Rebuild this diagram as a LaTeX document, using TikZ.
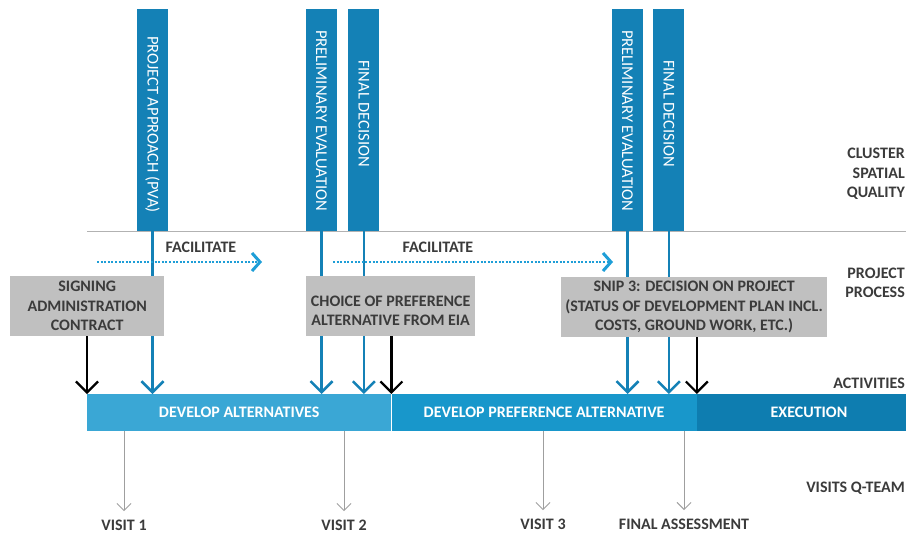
\documentclass[tikz,border=0pt]{standalone}
\usepackage{fontspec}
\setmainfont{Carlito}
\usepackage{tikz}
\usetikzlibrary{arrows.meta, positioning, calc}
\definecolor{gateblue}{HTML}{1481B6}
\definecolor{dotblue}{HTML}{1E9ED7}
\definecolor{phaseA}{HTML}{3AA7D5}
\definecolor{phaseB}{HTML}{1897CB}
\definecolor{phaseC}{HTML}{0E7DB0}
\definecolor{boxgray}{HTML}{C0C0C0}
\definecolor{inkgray}{HTML}{3B3B3B}

\begin{document}
\begin{tikzpicture}[
    x=1pt, y=-1pt,
    font=\fontsize{16}{19.5}\selectfont\bfseries,
    text=inkgray,
    gatebar/.style={rectangle, fill=gateblue, minimum width=31pt, minimum height=222pt, inner sep=0pt},
    gatelabel/.style={rotate=-90, anchor=west, inner sep=0pt, text=white, font=\fontsize{16.5}{19}\selectfont},
    processbox/.style={rectangle, fill=boxgray, anchor=north west, inner sep=0pt, minimum height=60pt, align=center},
    phase/.style={rectangle, inner sep=0pt, minimum height=37pt, text=white},
    lane/.style={anchor=east, inner sep=0pt, align=right},
    gatearrow/.style={draw=gateblue, line width=2.8pt, -{Straight Barb[length=11pt, width=22pt, line width=2.5pt]}},
    decisionarrow/.style={draw=black, line width=2.2pt, -{Straight Barb[length=11pt, width=22pt, line width=2.2pt]}},
    facilitate/.style={draw=dotblue, line width=2.2pt, dash pattern=on 2pt off 1.6pt, -{Straight Barb[length=8pt, width=18pt, line width=3pt]}},
    visitarrow/.style={draw=gray!75, line width=1pt, -{Straight Barb[length=7pt, width=14pt]}, shorten >=5pt},
]
\useasboundingbox (0,0) rectangle (913,535);

\node[gatebar, anchor=north] (pva) at (152.5,9) {};
\node[gatebar, anchor=north] (pe1) at (321.5,9) {};
\node[gatebar, right=11pt of pe1] (fd1) {};
\node[gatebar, anchor=north] (pe2) at (627.5,9) {};
\node[gatebar, right=10pt of pe2] (fd2) {};

\node[gatelabel] (pvatext) at ($(pva.north)+(0,27)$) {PROJECT APPROACH (PVA)};
\node[gatelabel] (pe1text) at ($(pe1.north)+(0,21)$) {PRELIMINARY EVALUATION};
\node[gatelabel] (fd1text) at ($(fd1.north)+(0,51)$) {FINAL DECISION};
\node[gatelabel] (pe2text) at ($(pe2.north)+(0,21)$) {PRELIMINARY EVALUATION};
\node[gatelabel] (fd2text) at ($(fd2.north)+(0,51)$) {FINAL DECISION};

\node[phase, anchor=north west, fill=phaseA, minimum width=304pt] (alt) at (87,394) {DEVELOP ALTERNATIVES};
\node[phase, fill=phaseB, minimum width=305pt, right=0pt of alt] (pref) {DEVELOP PREFERENCE ALTERNATIVE};
\node[phase, fill=phaseC, minimum width=209pt, right=0pt of pref] (exec) {\hspace*{15pt}EXECUTION};

\draw[gray!60, line width=0.8pt] (alt.west |- pva.south) -- (exec.east |- pva.south);

\foreach \g in {pva, pe1, fd1, pe2, fd2}
    \draw[gatearrow] (\g.south) -- (\g.south |- alt.north);

\node[processbox, minimum width=154pt] (signing) at (10,276) {SIGNING\\ADMINISTRATION\\CONTRACT};
\node[processbox, minimum width=169pt] (choice) at (306,276) {\mbox{}\\CHOICE OF PREFERENCE\\ALTERNATIVE FROM EIA};
\node[processbox, minimum width=266pt] (snip) at (561,277) {SNIP 3: DECISION ON PROJECT\\(STATUS OF DEVELOPMENT PLAN INCL.\\COSTS, GROUND WORK, ETC.)};

\draw[decisionarrow] (signing.south -| alt.west) -- (alt.north west);
\draw[decisionarrow] (choice.south -| pref.west) -- (pref.north west);
\draw[decisionarrow] (snip.south -| exec.west) -- (exec.north west);

\coordinate (fac1a) at (97,262);
\coordinate (fac1b) at (262,262);
\coordinate (fac2a) at (333,262);
\coordinate (fac2b) at (613,262);
\draw[facilitate] (fac1a) -- node[pos=0.63, above=5pt] (fac1) {FACILITATE} (fac1b);
\draw[facilitate] (fac2a) -- node[pos=0.375, above=5pt] (fac2) {FACILITATE} (fac2b);

\node[lane] (cluster) at (905,174) {CLUSTER\\SPATIAL\\QUALITY};
\node[lane] (process) at (905,283) {PROJECT\\PROCESS};
\node[lane] (activities) at (905,383) {ACTIVITIES};
\node[lane] (qteam) at (905,488) {VISITS Q-TEAM};

\node (visit1) at (124,525) {VISIT 1};
\node (visit2) at (344,525) {VISIT 2};
\node (visit3) at (543,524) {VISIT 3};
\node (final) at (684,524) {FINAL ASSESSMENT};

\foreach \v in {visit1, visit2, visit3, final}
    \draw[visitarrow] (alt.south -| \v) -- (\v.north);

\end{tikzpicture}
\end{document}
